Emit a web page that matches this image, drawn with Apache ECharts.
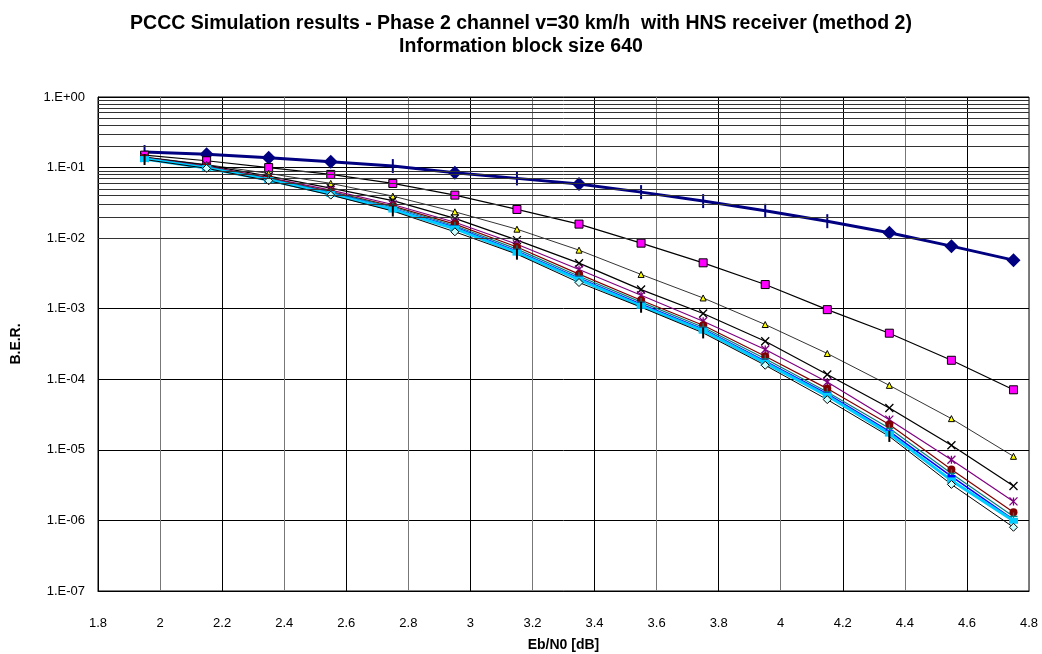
<!DOCTYPE html>
<html>
<head>
<meta charset="utf-8">
<script src="https://cdn.jsdelivr.net/npm/echarts@6/dist/echarts.min.js"></script>
<style>
	html, body { margin: 0; padding: 0; background: #fff; }
	#ber { width: 1042px; height: 654px; }
</style>
</head>
<body>
<div id="ber"></div>
<script>
// Eb/N0 points (dB)
var ebno = [1.95, 2.15, 2.35, 2.55, 2.75, 2.95, 3.15, 3.35, 3.55, 3.75, 3.95, 4.15, 4.35, 4.55, 4.75];

// B.E.R. per curve
var ber1 = [0.166, 0.155, 0.138, 0.121, 0.105, 0.0844, 0.0703, 0.0583, 0.0449, 0.0335, 0.0244, 0.0174, 0.0119, 0.0077, 0.00488];
var ber2 = [0.150, 0.125, 0.100, 0.080, 0.0596, 0.0407, 0.0255, 0.0158, 0.00849, 0.00447, 0.0022, 0.00097, 0.00045, 0.000186, 0.000071];
var ber3 = [0.141, 0.110, 0.0827, 0.0597, 0.0394, 0.0236, 0.0134, 0.00676, 0.00306, 0.00142, 0.000597, 0.000232, 0.000082, 0.0000277, 0.0000081];
var ber4 = [0.139, 0.108, 0.0757, 0.0512, 0.0340, 0.0190, 0.00937, 0.00442, 0.00187, 0.000855, 0.000346, 0.000117, 0.0000392, 0.0000116, 0.00000307];
var ber5 = [0.137, 0.105, 0.072, 0.048, 0.030, 0.0168, 0.0082, 0.0036, 0.00155, 0.000665, 0.000264, 0.0000916, 0.0000268, 0.00000726, 0.00000186];
var ber6 = [0.137, 0.103, 0.071, 0.0457, 0.0284, 0.0158, 0.0075, 0.00309, 0.00132, 0.000583, 0.000212, 0.0000738, 0.0000228, 0.00000528, 0.00000131];
var ber7 = [0.136, 0.102, 0.0700, 0.0448, 0.0276, 0.0150, 0.00698, 0.00289, 0.00124, 0.000547, 0.000195, 0.000066, 0.0000202, 0.00000464, 0.00000114];
var ber8 = [0.134, 0.100, 0.0676, 0.0436, 0.0262, 0.0143, 0.00654, 0.00271, 0.00116, 0.000512, 0.000180, 0.000062, 0.0000183, 0.0000042, 0.00000103];
var ber9 = [0.132, 0.0984, 0.0665, 0.0421, 0.0254, 0.0136, 0.00623, 0.00258, 0.00110, 0.000488, 0.000171, 0.0000583, 0.000017, 0.00000369, 0.00000099];
var ber10 = [0.130, 0.0975, 0.0650, 0.0407, 0.0242, 0.0123, 0.00593, 0.00235, 0.00105, 0.000454, 0.000158, 0.0000515, 0.0000155, 0.00000324, 0.0000008];

window.onload = function(){

var myChart = echarts.init(document.querySelector('#ber'));

function pairs(arr) {
	return ebno.map(function (x, i) { return [x, arr[i]]; });
}

// points where the excel marker came out as a vertical bar
function barPoints(arr, idx, size, color) {
	return ebno.map(function (x, i) {
		if (idx.indexOf(i) >= 0) {
			return { value: [x, arr[i]], symbol: 'rect', symbolSize: size, itemStyle: { color: color, borderWidth: 0 } };
		}
		return [x, arr[i]];
	});
}

// log minor grid lines 2..9 per decade
var minorLines = [];
for (var e = -7; e < 0; e++) {
	for (var m = 2; m <= 9; m++) {
		minorLines.push({ yAxis: m * Math.pow(10, e) });
	}
}

var xPath = 'path://M0,0L10,10M10,0L0,10';
var starPath = 'path://M0,0L10,10M10,0L0,10M5,0L5,10';
var plusPath = 'path://M5,0L5,10M0,5L10,5';

var option = {
	animation: false,
	backgroundColor: '#fff',
	title: {
		text: 'PCCC Simulation results - Phase 2 channel v=30 km/h  with HNS receiver (method 2)\nInformation block size 640',
		left: 'center',
		top: 7,
		textStyle: {
			fontFamily: 'Liberation Sans',
			fontWeight: 'bold',
			fontSize: 19.5,
			lineHeight: 23,
			color: '#000'
		}
	},
	grid: {
		left: 98,
		right: 13,
		top: 97,
		bottom: 63,
		outerBoundsMode: 'none',
		show: true,
		borderColor: '#000',
		borderWidth: 1
	},
	xAxis: {
		type: 'value',
		min: 1.8,
		max: 4.8,
		interval: 0.2,
		name: 'Eb/N0 [dB]',
		nameLocation: 'middle',
		nameGap: 47,
		nameTextStyle: { fontFamily: 'Liberation Sans', fontWeight: 'bold', fontSize: 14, color: '#000' },
		axisLine: { lineStyle: { color: '#000', width: 1 } },
		axisTick: { show: false },
		axisLabel: {
			margin: 26,
			fontFamily: 'Liberation Sans',
			fontSize: 13,
			color: '#000',
			formatter: function (v) { return String(+v.toFixed(1)); }
		},
		splitLine: { show: true, lineStyle: { color: ['#000', '#777'], width: 1 } }
	},
	yAxis: {
		type: 'log',
		logBase: 10,
		min: 1e-7,
		max: 1,
		name: 'B.E.R.',
		nameLocation: 'middle',
		nameGap: 75,
		nameRotate: 90,
		nameTextStyle: { fontFamily: 'Liberation Sans', fontWeight: 'bold', fontSize: 14, color: '#000' },
		axisLine: { lineStyle: { color: '#000', width: 1 } },
		axisTick: { show: false },
		axisLabel: {
			margin: 13,
			fontFamily: 'Liberation Sans',
			fontSize: 13,
			color: '#000',
			formatter: function (v) {
				var ex = Math.round(Math.log(v) / Math.LN10);
				var a = Math.abs(ex);
				return '1.E' + (ex < 0 ? '-' : '+') + (a < 10 ? '0' : '') + a;
			}
		},
		splitLine: { show: true, lineStyle: { color: '#000', width: 1 } }
	},
	series: [{
		name: 'grid',
		type: 'line',
		data: pairs(ber1),
		showSymbol: false,
		lineStyle: { opacity: 0 },
		silent: true,
		z: 1,
		markLine: {
			silent: true,
			symbol: ['none', 'none'],
			label: { show: false },
			lineStyle: { color: '#333', width: 1, type: 'solid' },
			emphasis: { disabled: true },
			data: minorLines
		}
	}, {
		name: 'c1',
		type: 'line',
		data: barPoints(ber1, [0, 4, 6, 8, 9, 10, 11], [2, 14], '#000080'),
		symbol: 'diamond',
		symbolSize: 14,
		itemStyle: { color: '#000080' },
		lineStyle: { color: '#000080', width: 3 }
	}, {
		name: 'c2',
		type: 'line',
		data: pairs(ber2),
		symbol: 'rect',
		symbolSize: 8,
		itemStyle: { color: '#ff00ff', borderColor: '#000', borderWidth: 1 },
		lineStyle: { color: '#000', width: 1.2 }
	}, {
		name: 'c3',
		type: 'line',
		data: pairs(ber3),
		symbol: 'triangle',
		symbolSize: 6,
		itemStyle: { color: '#ffff00', borderColor: '#000', borderWidth: 1 },
		lineStyle: { color: '#000', width: 0.8 }
	}, {
		name: 'c4',
		type: 'line',
		data: pairs(ber4),
		symbol: xPath,
		symbolSize: 8,
		itemStyle: { color: 'none', borderColor: '#000', borderWidth: 1.3 },
		lineStyle: { color: '#000', width: 1.3 }
	}, {
		name: 'c5',
		type: 'line',
		data: pairs(ber5),
		symbol: starPath,
		symbolSize: 8,
		itemStyle: { color: 'none', borderColor: '#800080', borderWidth: 1.3 },
		lineStyle: { color: '#800080', width: 1.2 }
	}, {
		name: 'c6',
		type: 'line',
		data: pairs(ber6),
		symbol: 'circle',
		symbolSize: 8,
		itemStyle: { color: '#800000', borderColor: '#800000', borderWidth: 0 },
		lineStyle: { color: '#800000', width: 1.2 }
	}, {
		name: 'c7',
		type: 'line',
		data: pairs(ber7),
		symbol: plusPath,
		symbolSize: 8,
		itemStyle: { color: 'none', borderColor: '#008080', borderWidth: 1.3 },
		lineStyle: { color: '#008080', width: 1.2 }
	}, {
		name: 'c8',
		type: 'line',
		data: pairs(ber8),
		symbol: 'rect',
		symbolSize: [8, 3],
		itemStyle: { color: '#0000ff', borderWidth: 0 },
		lineStyle: { color: '#0000ff', width: 1.5 }
	}, {
		name: 'c9',
		type: 'line',
		data: pairs(ber9),
		symbol: 'rect',
		symbolSize: [9, 6],
		itemStyle: { color: '#00ccff', borderWidth: 0 },
		lineStyle: { color: '#00ccff', width: 3 }
	}, {
		name: 'c10',
		type: 'line',
		data: barPoints(ber10, [0, 4, 6, 8, 9, 12], [2, 11], '#000'),
		symbol: 'diamond',
		symbolSize: 8,
		itemStyle: { color: '#ccffff', borderColor: '#000', borderWidth: 1 },
		lineStyle: { color: '#000', width: 1 }
	}]
};

myChart.setOption(option);
}
</script>
</body>
</html>
